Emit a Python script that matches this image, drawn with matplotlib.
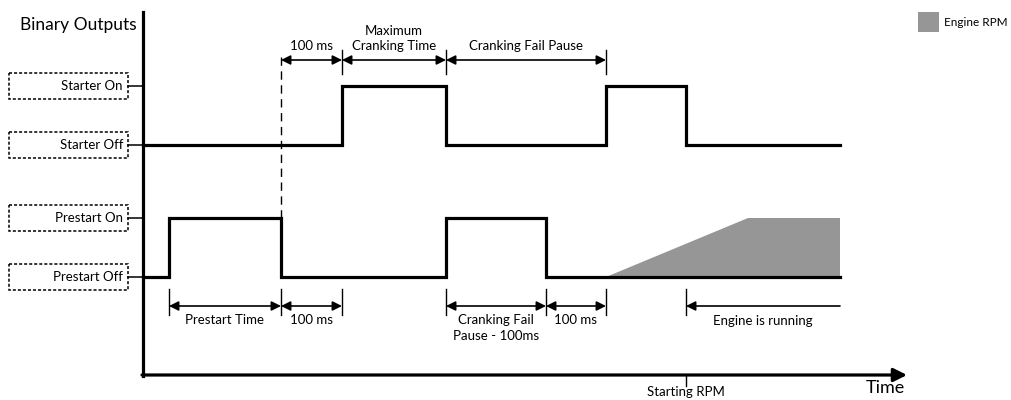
import matplotlib
matplotlib.use("Agg")
import matplotlib.pyplot as plt
from matplotlib.patches import FancyBboxPatch, Rectangle

plt.rcParams["font.family"] = ["Lato", "DejaVu Sans"]

# pixel-like coordinates (y grows downward)
LEVEL_NAMES = ["Starter On", "Starter Off", "Prestart On", "Prestart Off"]
LEVEL_Y = [86, 145, 218, 277]

starter_edges = [143, 342, 446, 606, 686, 840]
starter_states = [0, 1, 0, 1, 0]          # 1 = On
prestart_edges = [143, 169, 281, 446, 546, 840]
prestart_states = [0, 1, 0, 1, 0]

rpm_x = [606, 748, 840, 840]
rpm_y = [277, 218, 218, 277]

top_dims = [(281, 342, "100 ms"), (342, 446, "Maximum\nCranking Time"),
            (446, 606, "Cranking Fail Pause")]
bottom_dims = [(169, 281, "Prestart Time"), (281, 342, "100 ms"),
               (446, 546, "Cranking Fail\nPause - 100ms"), (546, 606, "100 ms")]
running_start, running_end = 686, 840
starting_rpm_x = 686

fig = plt.figure(figsize=(10.12, 4.0), dpi=100)
ax = fig.add_axes([0, 0, 1, 1])
ax.set_xlim(0, 1012)
ax.set_ylim(400, 0)
ax.axis("off")

FS = 9.5


def signal(edges, states, on_y, off_y):
    xs, ys = [], []
    for i, s in enumerate(states):
        y = on_y if s else off_y
        xs += [edges[i], edges[i + 1]]
        ys += [y, y]
    ax.plot(xs, ys, color="black", lw=2.3, solid_joinstyle="miter")


# Engine RPM area (drawn first so the signal line sits on top)
ax.fill(rpm_x, rpm_y, color="#969696", lw=0)

signal(starter_edges, starter_states, LEVEL_Y[0], LEVEL_Y[1])
signal(prestart_edges, prestart_states, LEVEL_Y[2], LEVEL_Y[3])

# axes
ax.plot([143, 143], [12, 376], color="black", lw=2.3)
ax.annotate("", xy=(907, 375), xytext=(142, 375),
            arrowprops=dict(arrowstyle="-|>", color="black", lw=2.3,
                            mutation_scale=20, shrinkA=0, shrinkB=0))
ax.text(885, 388, "Time", fontsize=13, ha="center", va="center")
ax.text(137, 25, "Binary Outputs", fontsize=12.5, ha="right", va="center")

# level label boxes
for name, y in zip(LEVEL_NAMES, LEVEL_Y):
    box = FancyBboxPatch((9, y - 13), 119, 26, boxstyle="square,pad=0",
                         fill=False, ec="black", lw=1.1, ls=(0, (2.0, 1.3)))
    ax.add_patch(box)
    ax.text(123, y, name, fontsize=FS, ha="right", va="center")
    ax.plot([128, 143], [y, y], color="black", lw=1.1)

# dashed guide
ax.plot([281, 281], [57, 218], color="black", lw=1, ls=(0, (6, 4)))


def dim(x0, x1, y, style="<|-|>"):
    ax.annotate("", xy=(x1, y), xytext=(x0, y),
                arrowprops=dict(arrowstyle=style, color="black", lw=1.2,
                                mutation_scale=14, shrinkA=0, shrinkB=0))


# top dimensions
for x0, x1, label in top_dims:
    dim(x0, x1, 60)
    ax.text((x0 + x1) / 2, 52, label, fontsize=FS, ha="center", va="bottom",
            linespacing=1.3)
for x in [342, 446, 606]:
    ax.plot([x, x], [50, 74], color="black", lw=1)

# bottom dimensions
for x0, x1, label in bottom_dims:
    dim(x0, x1, 306)
    ax.text((x0 + x1) / 2, 314, label, fontsize=FS, ha="center", va="top",
            linespacing=1.35)
for x in [169, 281, 342, 446, 546, 606, 686]:
    ax.plot([x, x], [289, 315], color="black", lw=1)
dim(running_end, running_start, 306, style="-|>")
ax.text(763, 321, "Engine is running", fontsize=FS, ha="center", va="center")

# starting RPM marker
ax.plot([starting_rpm_x, starting_rpm_x], [375, 386], color="black", lw=1)
ax.text(starting_rpm_x, 392, "Starting RPM", fontsize=FS, ha="center", va="center")

# legend
ax.add_patch(Rectangle((918, 12), 21, 20, color="#969696", lw=0))
ax.text(944, 22, "Engine RPM", fontsize=8.5, ha="left", va="center")

fig.savefig("out.png", dpi=100)
